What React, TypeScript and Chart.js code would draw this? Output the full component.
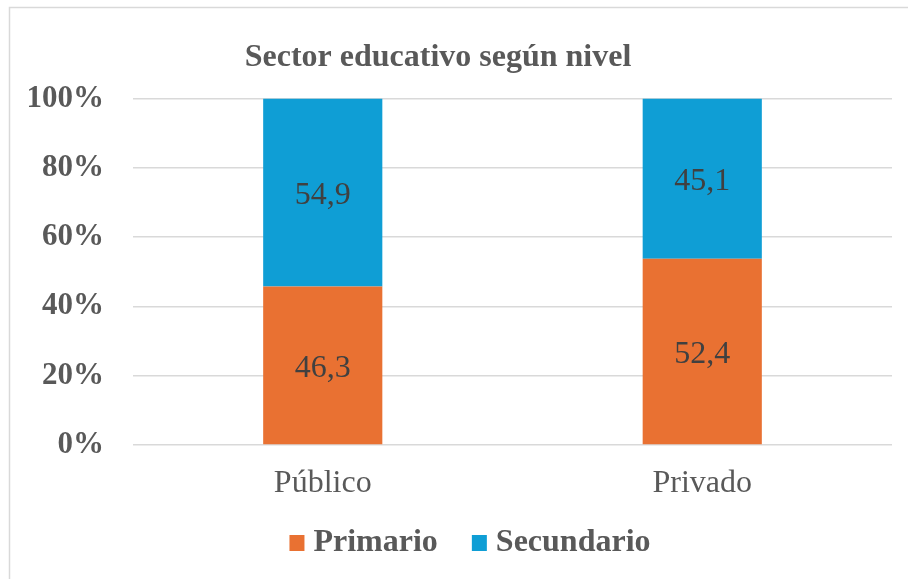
import React, { useEffect, useRef } from "react";
import { Chart, registerables } from "chart.js";

Chart.register(...registerables);

const categories = ["Público", "Privado"];
const seriesNames = ["Primario", "Secundario"];
const primario = [46.3, 52.4];
const secundario = [54.9, 45.1];
const yTicks = [0, 20, 40, 60, 80, 100];
const colors = ["#E97132", "#0F9ED5"];
const titleText = "Sector educativo según nivel";

const FONT = "'Liberation Serif', 'Times New Roman', serif";
const TEXT = "#595959";

const bgPlugin = {
  id: "bgBorder",
  beforeDraw(chart: any) {
    const ctx = chart.ctx;
    ctx.save();
    ctx.fillStyle = "#ffffff";
    ctx.fillRect(0, 0, chart.width, chart.height);
    ctx.strokeStyle = "#d9d9d9";
    ctx.lineWidth = 1.5;
    ctx.strokeRect(9.5, 7.5, chart.width + 20, chart.height + 20);
    ctx.restore();
  },
};

const labelPlugin = {
  id: "valueLabels",
  afterDatasetsDraw(chart: any) {
    const ctx = chart.ctx;
    ctx.save();
    ctx.font = `32px ${FONT}`;
    ctx.fillStyle = "#404040";
    ctx.textAlign = "center";
    ctx.textBaseline = "middle";
    chart.data.datasets.forEach((ds: any, i: number) => {
      const meta = chart.getDatasetMeta(i);
      meta.data.forEach((el: any, j: number) => {
        const raw = ds.rawValues[j];
        const txt = raw.toFixed(1).replace(".", ",");
        ctx.fillText(txt, el.x, (el.y + el.base) / 2 + 3);
      });
    });
    ctx.restore();
  },
};

const titleLegendPlugin = {
  id: "titleLegend",
  afterDraw(chart: any) {
    const ctx = chart.ctx;
    ctx.save();
    ctx.font = `bold 32px ${FONT}`;
    ctx.fillStyle = TEXT;
    ctx.textAlign = "center";
    ctx.textBaseline = "middle";
    ctx.fillText(titleText, 438, 58);

    // legend
    const box = 15;
    const gap = 9;
    const spacing = 34;
    const items = chart.data.datasets.map((ds: any) => ({
      label: ds.label,
      color: ds.backgroundColor,
      w: ctx.measureText(ds.label).width,
    }));
    const total =
      items.reduce((a: number, it: any) => a + box + gap + it.w, 0) +
      spacing * (items.length - 1);
    let x = 470 - total / 2;
    const cy = 543;
    ctx.textAlign = "left";
    items.forEach((it: any) => {
      ctx.fillStyle = it.color;
      ctx.fillRect(x, 535, box, box + 1);
      x += box + gap;
      ctx.fillStyle = TEXT;
      ctx.fillText(it.label, x, cy);
      x += it.w + spacing;
    });
    ctx.restore();
  },
};

export default function App() {
  const ref = useRef<HTMLCanvasElement>(null);
  useEffect(() => {
    if (!ref.current) return;
    const totals = categories.map((_, i) => primario[i] + secundario[i]);
    const raw = [primario, secundario];
    const chart = new Chart(ref.current, {
      type: "bar",
      data: {
        labels: categories,
        datasets: raw.map((vals, k) => ({
          label: seriesNames[k],
          data: vals.map((v, i) => (v / totals[i]) * 100),
          rawValues: vals,
          backgroundColor: colors[k],
          borderWidth: 0,
          barPercentage: 0.314,
          categoryPercentage: 1,
        })) as any,
      },
      options: {
        responsive: false,
        animation: false,
        layout: { padding: { left: 0, right: 16, top: 98.5, bottom: 74 } },
        scales: {
          x: {
            stacked: true,
            grid: { display: false, drawTicks: false },
            border: { display: false },
            ticks: { color: TEXT, font: { family: FONT, size: 32 }, padding: 19 },
            afterFit: (s: any) => {
              s.height = 60;
            },
          },
          y: {
            stacked: true,
            min: 0,
            max: 100,
            afterBuildTicks: (s: any) => {
              s.ticks = yTicks.map((v) => ({ value: v }));
            },
            grid: { color: "#d9d9d9", lineWidth: 1.5, drawTicks: false },
            border: { display: false },
            ticks: {
              color: TEXT,
              font: { family: FONT, size: 31, weight: "bold" },
              padding: 29,
              callback: (v: any) => v + "%",
            },
            afterFit: (s: any) => {
              s.width = 133;
            },
          },
        },
        plugins: {
          title: { display: false },
          legend: { display: false },
          tooltip: { enabled: false },
        },
      },
      plugins: [bgPlugin, labelPlugin, titleLegendPlugin],
    });
    return () => chart.destroy();
  }, []);
  return (
    <div style={{ position: "absolute", left: 0, top: 0, width: 908, height: 579 }}>
      <canvas ref={ref} width={908} height={579} />
    </div>
  );
}
